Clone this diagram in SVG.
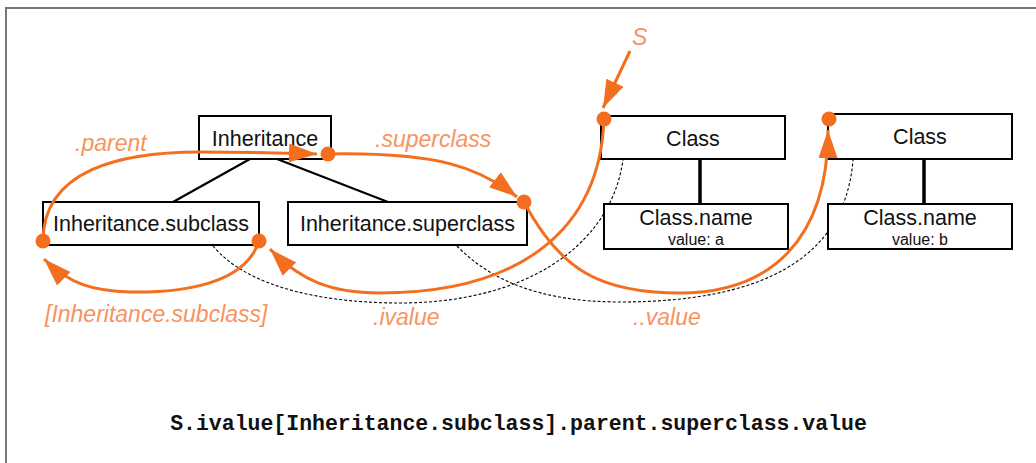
<svg xmlns="http://www.w3.org/2000/svg" width="1036" height="463" viewBox="0 0 1036 463">
  <defs>
    <style>
      .box { fill: #ffffff; stroke: #000000; stroke-width: 2; }
      .lbl { font-family: "Liberation Sans", Arial, sans-serif; font-size: 21.5px; fill: #111111; text-anchor: middle; }
      .small { font-family: "Liberation Sans", Arial, sans-serif; font-size: 16px; fill: #111111; text-anchor: middle; }
      .tree { stroke: #000000; stroke-width: 2.2; fill: none; }
      .stem { stroke: #000000; stroke-width: 3.5; fill: none; }
      .dots { stroke: #000000; stroke-width: 1.1; stroke-dasharray: 3 2; fill: none; }
      .path { stroke: #f36f1f; stroke-width: 3; fill: none; }
      .dot { fill: #f36f1f; }
      .nav { font-family: "Liberation Sans", Arial, sans-serif; font-size: 23px; font-style: italic; fill: #f7935e; }
      .expr { font-family: "Liberation Mono", "Courier New", monospace; font-size: 21.5px; font-weight: bold; fill: #111111; text-anchor: middle; }
    </style>
    <marker id="arrow" markerUnits="userSpaceOnUse" markerWidth="30" markerHeight="20" refX="28" refY="9.5" orient="auto">
      <path d="M0,0 L28,9.5 L0,19 z" fill="#f36f1f"/>
    </marker>
  </defs>

  <!-- frame -->
  <rect x="6" y="8" width="1040" height="470" fill="#ffffff" stroke="#777777" stroke-width="2"/>

  <!-- structural links and instance links -->
  <g id="connectors">
    <line class="tree" x1="250" y1="159" x2="173" y2="202"/>
    <line class="tree" x1="277" y1="159" x2="388" y2="202"/>
    <line class="stem" x1="700" y1="159" x2="700" y2="204"/>
    <line class="stem" x1="924" y1="159" x2="924" y2="204"/>
    <path class="dots" d="M213,246 C250,290 330,303 400,303 C520,303 610,250 623,160"/>
    <path class="dots" d="M457,246 C490,280 540,302 620,302 C760,302 845,260 853,160"/>
  </g>

  <g id="node-inheritance">
    <rect class="box" x="199" y="116" width="132" height="43"/>
    <text class="lbl" x="265" y="146">Inheritance</text>
  </g>
  <g id="node-subclass">
    <rect class="box" x="43" y="202" width="216" height="43"/>
    <text class="lbl" x="151" y="231">Inheritance.subclass</text>
  </g>
  <g id="node-superclass">
    <rect class="box" x="288" y="202" width="239" height="43"/>
    <text class="lbl" x="407.5" y="231">Inheritance.superclass</text>
  </g>
  <g id="node-class-a">
    <rect class="box" x="601" y="116" width="184" height="43"/>
    <text class="lbl" x="693" y="146">Class</text>
  </g>
  <g id="node-classname-a">
    <rect class="box" x="604" y="204" width="184" height="45"/>
    <text class="lbl" x="696" y="225">Class.name</text>
    <text class="small" x="696" y="245">value: a</text>
  </g>
  <g id="node-class-b">
    <rect class="box" x="828" y="114" width="184" height="45"/>
    <text class="lbl" x="920" y="144">Class</text>
  </g>
  <g id="node-classname-b">
    <rect class="box" x="828" y="204" width="184" height="45"/>
    <text class="lbl" x="920" y="225">Class.name</text>
    <text class="small" x="920" y="245">value: b</text>
  </g>

  <!-- navigation path -->
  <g id="navigation">
    <path class="path" d="M630,51 L603,108" marker-end="url(#arrow)"/>
    <path class="path" d="M604,119 C600,230 520,293 380,293 C330,293 300,280 270,249" marker-end="url(#arrow)"/>
    <path class="path" d="M259,241 C245,285 180,293 130,292 C95,291 70,285 44,259" marker-end="url(#arrow)"/>
    <path class="path" d="M43,241 C43,170 120,152 200,152 C250,152 290,153 317,154" marker-end="url(#arrow)"/>
    <path class="path" d="M328,154 C440,152 480,168 517,197" marker-end="url(#arrow)"/>
    <path class="path" d="M524,202 C560,270 600,293 680,293 C770,293 828,240 828,130" marker-end="url(#arrow)"/>
    <circle class="dot" cx="604" cy="119" r="7.5"/>
    <circle class="dot" cx="259" cy="241" r="7.5"/>
    <circle class="dot" cx="43" cy="241" r="7.5"/>
    <circle class="dot" cx="328" cy="154" r="7.5"/>
    <circle class="dot" cx="524" cy="202" r="7.5"/>
    <circle class="dot" cx="829" cy="119" r="7.5"/>
    <text class="nav" x="632" y="45">S</text>
    <text class="nav" x="75" y="151">.parent</text>
    <text class="nav" x="375" y="147">.superclass</text>
    <text class="nav" x="45" y="322">[Inheritance.subclass]</text>
    <text class="nav" x="373" y="325">.ivalue</text>
    <text class="nav" x="633" y="325">..value</text>
  </g>

  <text class="expr" x="518.5" y="430">S.ivalue[Inheritance.subclass].parent.superclass.value</text>
</svg>
